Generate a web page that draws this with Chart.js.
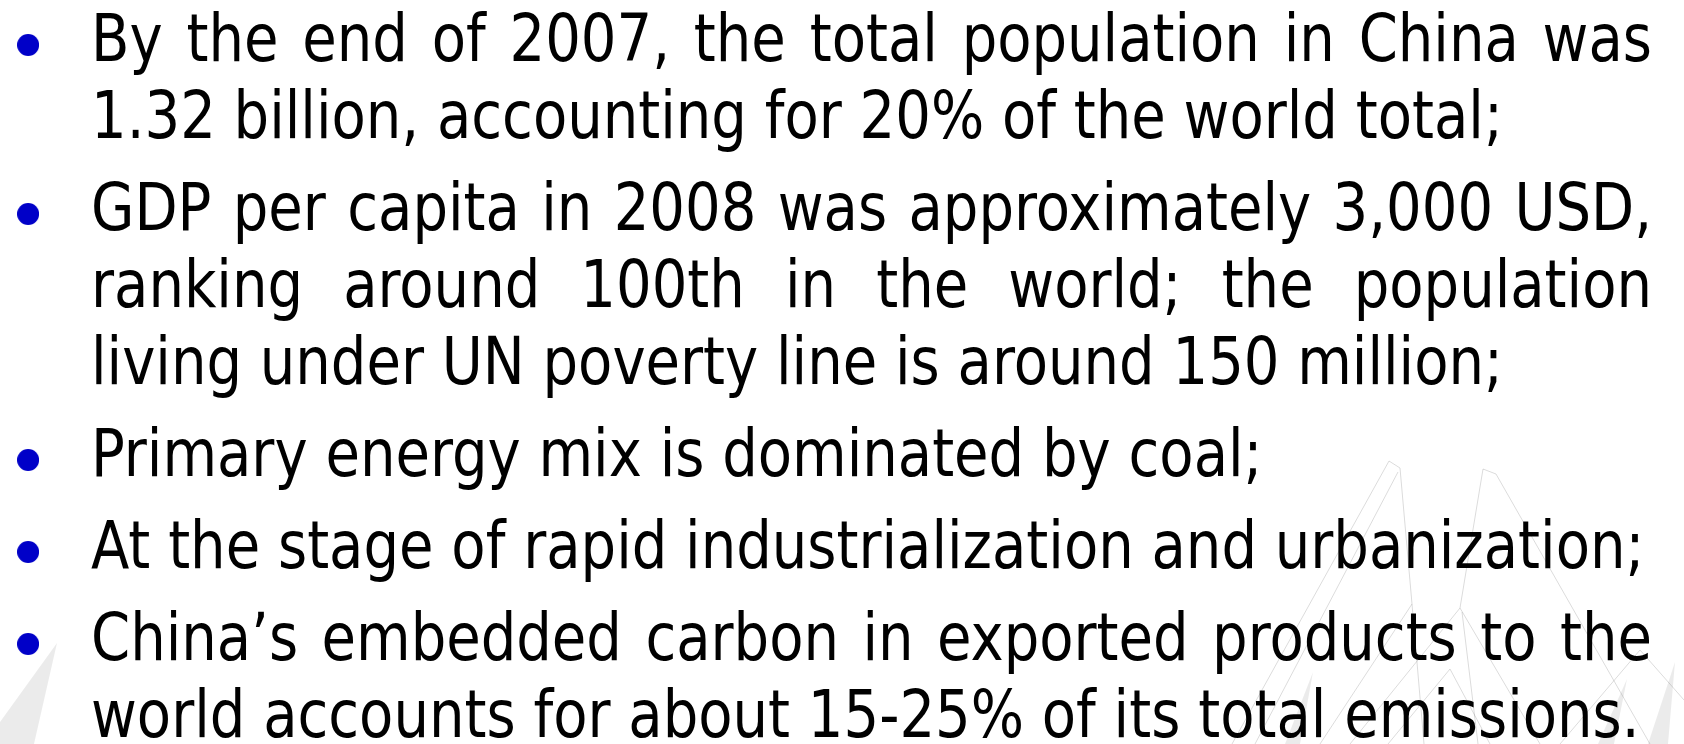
<!DOCTYPE html>
<html>
<head>
<meta charset="utf-8">
<script src="https://cdn.jsdelivr.net/npm/chart.js@4"></script>
<style>
  html, body { margin: 0; padding: 0; background: #fff; }
  body { width: 1684px; height: 744px; position: relative; overflow: hidden; }
  #bg { position: absolute; left: 0; top: 0; width: 1684px; height: 744px; }
  #points {
    --s: 1;
    position: absolute; left: 91px; top: 0; width: calc(1561px / var(--s));
    transform: scaleX(var(--s)); transform-origin: 0 0;
    margin: 0; padding: 0; list-style: none;
    font-family: "DejaVu Sans", sans-serif;
    font-size: 66px; line-height: 77px; color: #000;
    text-align: justify;
  }
  #points li { position: relative; margin: 0; }
  #points li + li { margin-top: 15px; }
  #points li::before {
    content: ""; position: absolute; top: 34px; height: 22px;
    left: calc(-74px / var(--s)); width: calc(22px / var(--s));
    border-radius: 50%; background: #0000c8;
  }
</style>
</head>
<body>
<canvas id="bg" width="1684" height="744"></canvas>
<ul id="points"></ul>
<script>
// slide text
const bullets = [
    "By the end of 2007, the total population in China was 1.32 billion, accounting for 20% of the world total;",
    "GDP per capita in 2008 was approximately 3,000 USD, ranking around 100th in the world; the population living under UN poverty line is around 150 million;",
    "Primary energy mix is dominated by coal;",
    "At the stage of rapid industrialization and urbanization;",
    "China\u2019s embedded carbon in exported products to the world accounts for about 15-25% of its total emissions."
];

// faint bridge watermark, as x/y pairs on a 1684 x 744 grid
const pylonLeft = [[1232, 744], [1389, 461], [1400, 468], [1412, 604], [1424, 744]];
const pylonLeftInner = [[1255, 744], [1398, 472]];
const pylonRight = [[1350, 744], [1460, 608], [1483, 469], [1496, 474], [1650, 744]];
const pylonRightInner = [[1478, 744], [1462, 612]];
const cables = [
    [[1388, 744], [1450, 669], [1490, 744]],
    [[1320, 744], [1412, 604]],
    [[1540, 744], [1460, 608]],
    [[1560, 744], [1640, 650], [1684, 700]]
];
const wedges = [
    [[57, 643], [0, 722], [0, 744], [34, 744]],
    [[1313, 672], [1285, 744], [1300, 744]],
    [[1627, 679], [1598, 744], [1614, 744]],
    [[1675, 662], [1648, 744], [1668, 744]]
];

let list = document.getElementById("points");
bullets.forEach(t => {
    let li = document.createElement("li");
    li.innerText = t;
    list.appendChild(li);
});

// squeeze DejaVu Sans to the narrower face used on the slide
let ctx2 = document.createElement("canvas").getContext("2d");
ctx2.font = '66px "DejaVu Sans"';
let s = (1171 / ctx2.measureText(bullets[2]).width + 1554 / ctx2.measureText(bullets[3]).width) / 2;
list.style.setProperty("--s", s.toFixed(4));

function toXY(arr) {
    return arr.map(p => ({ x: p[0], y: p[1] }));
}

let datasets = [];
[pylonLeft, pylonLeftInner, pylonRight, pylonRightInner].concat(cables).forEach(line => {
    datasets.push({
        data: toXY(line), showLine: true, pointRadius: 0,
        borderColor: "rgba(0,0,0,0.14)", borderWidth: 1, fill: false
    });
});
wedges.forEach(w => {
    datasets.push({
        data: toXY(w), showLine: true, pointRadius: 0,
        borderColor: "rgba(0,0,0,0)", borderWidth: 0,
        backgroundColor: "rgba(0,0,0,0.08)", fill: "shape"
    });
});

new Chart(document.getElementById("bg"), {
    type: "scatter",
    data: { datasets: datasets },
    options: {
        responsive: false,
        animation: false,
        layout: { padding: 0 },
        plugins: { legend: { display: false }, tooltip: { enabled: false } },
        scales: {
            x: { display: false, min: 0, max: 1684 },
            y: { display: false, min: 0, max: 744, reverse: true }
        }
    }
});
</script>
</body>
</html>
